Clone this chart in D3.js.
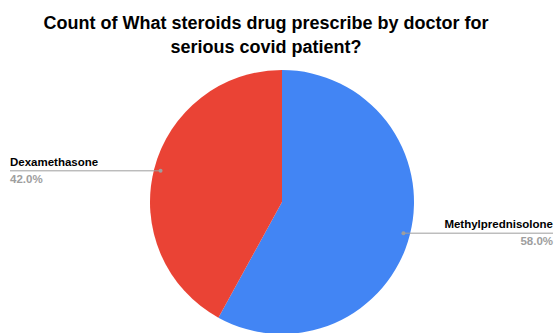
<!DOCTYPE html>
<html>
<head>
<meta charset="utf-8">
<script src="https://cdn.jsdelivr.net/npm/d3@7"></script>
<style>
  body { margin: 0; background: #fff; }
  svg { display: block; font-family: "Liberation Sans", Arial, sans-serif; }
</style>
</head>
<body>
<div id="chart"></div>
<script>
const categories = ["Methylprednisolone", "Dexamethasone"]
const counts = [29, 21]
const colors = ["#4285f4", "#ea4335"]
const titleLines = ["Count of What steroids drug prescribe by doctor for", "serious covid patient?"]

const width = 555, height = 333
const cx = 282, cy = 202, radius = 132

const svg = d3.select("#chart").append("svg")
  .attr("width", width)
  .attr("height", height)

svg.append("text")
  .attr("x", 266)
  .attr("y", 29)
  .attr("text-anchor", "middle")
  .attr("font-size", 18)
  .attr("font-weight", "bold")
  .attr("fill", "#000")
  .selectAll("tspan")
  .data(titleLines)
  .join("tspan")
  .attr("x", 266)
  .attr("dy", (d, i) => i === 0 ? 0 : 24)
  .text(d => d)

const data = categories.map((c, i) => ({name: c, value: counts[i], color: colors[i]}))
const total = d3.sum(counts)

const pie = d3.pie().value(d => d.value).sort(null)
const arc = d3.arc().innerRadius(0).outerRadius(radius)
const arcs = pie(data)

const g = svg.append("g").attr("transform", `translate(${cx},${cy})`)

g.selectAll("path")
  .data(arcs)
  .join("path")
  .attr("d", arc)
  .attr("fill", d => d.data.color)

// leader lines + labels
const dotArc = d3.arc().innerRadius(radius * 0.95).outerRadius(radius * 0.95)

arcs.forEach(a => {
  const [px, py] = dotArc.centroid(a)
  const right = px > 0
  const lineEnd = right ? width - 2 - cx : 10 - cx
  g.append("line")
    .attr("x1", px).attr("y1", py)
    .attr("x2", lineEnd).attr("y2", py)
    .attr("stroke", "#9e9e9e")
    .attr("stroke-width", 1)
  g.append("circle")
    .attr("cx", px).attr("cy", py)
    .attr("r", 2)
    .attr("fill", "#9e9e9e")
  g.append("text")
    .attr("x", lineEnd)
    .attr("y", py - 5)
    .attr("text-anchor", right ? "end" : "start")
    .attr("font-size", 11.5)
    .attr("font-weight", "bold")
    .attr("fill", "#000")
    .text(a.data.name)
  g.append("text")
    .attr("x", lineEnd)
    .attr("y", py + 12)
    .attr("text-anchor", right ? "end" : "start")
    .attr("font-size", 11.5)
    .attr("font-weight", "bold")
    .attr("fill", "#9e9e9e")
    .text(d3.format(".1f")(a.data.value / total * 100) + "%")
})
</script>
</body>
</html>
